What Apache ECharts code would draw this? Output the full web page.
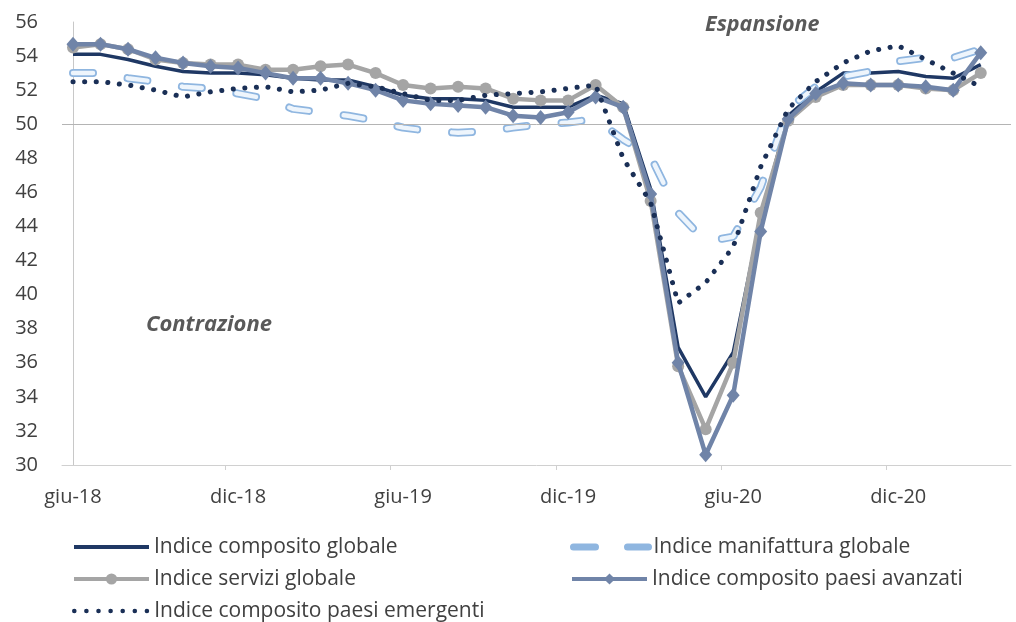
<!DOCTYPE html>
<html>
<head>
<meta charset="utf-8">
<script src="https://cdn.jsdelivr.net/npm/echarts@6/dist/echarts.min.js"></script>
<style>
html,body{margin:0;padding:0;background:#fff;}
#chart{width:1016px;height:622px;}
</style>
</head>
<body>
<div id="chart"></div>
<script>
const months = ['giu-18','lug-18','ago-18','set-18','ott-18','nov-18','dic-18','gen-19','feb-19','mar-19','apr-19','mag-19',
  'giu-19','lug-19','ago-19','set-19','ott-19','nov-19','dic-19','gen-20','feb-20','mar-20','apr-20','mag-20',
  'giu-20','lug-20','ago-20','set-20','ott-20','nov-20','dic-20','gen-21','feb-21','mar-21'];

const compositoGlobale = [54.1,54.1,53.8,53.4,53.1,53.0,53.0,52.9,52.7,52.6,52.6,52.2,51.7,51.5,51.5,51.4,51.0,51.0,51.0,51.7,51.2,46.2,36.9,34.0,36.6,44.5,50.5,51.9,53.0,53.0,53.1,52.8,52.7,53.5];
const manifatturaGlobale = [53.0,53.0,52.7,52.5,52.2,52.1,51.8,51.5,50.9,50.7,50.5,50.2,49.8,49.6,49.5,49.6,49.8,50.0,50.1,50.3,49.1,48.1,44.8,43.1,43.4,46.3,50.9,52.2,52.8,53.1,53.7,53.9,53.9,54.4];
const serviziGlobale = [54.5,54.7,54.4,53.8,53.6,53.5,53.5,53.2,53.2,53.4,53.5,53.0,52.3,52.1,52.2,52.1,51.5,51.4,51.4,52.3,51.0,45.5,35.8,32.1,36.0,44.8,50.2,51.6,52.3,52.3,52.3,52.1,52.0,53.0];
const compositoAvanzati = [54.7,54.7,54.4,53.9,53.6,53.4,53.3,53.0,52.7,52.7,52.4,52.0,51.4,51.2,51.1,51.0,50.5,50.4,50.7,51.6,51.0,45.9,36.0,30.6,34.1,43.7,50.3,51.8,52.4,52.3,52.3,52.2,52.0,54.2];
const compositoEmergenti = [52.5,52.5,52.3,52.0,51.6,51.9,52.1,52.2,51.9,52.0,52.4,52.2,51.8,51.4,51.4,51.7,51.8,51.9,52.1,52.3,48.0,45.4,39.5,40.7,42.8,47.5,50.9,52.5,53.6,54.3,54.6,53.8,53.0,52.2];

const seriesNames = ['Indice composito globale','Indice manifattura globale','Indice servizi globale','Indice composito paesi avanzati','Indice composito paesi emergenti'];
const annotations = ['Espansione','Contrazione'];
const yMin = 30, yMax = 56, yStep = 2, threshold = 50;
const labelEvery = 6;

const toPairs = arr => arr.map((v, i) => [i, v]);
const labelValues = months.map((m, i) => i).filter(i => i % labelEvery === 0);
const tickValues = labelValues.slice(1).map(i => i - 0.45);

const FONT = '"Open Sans", sans-serif';
const txt = '#404040';

const chart = echarts.init(document.getElementById('chart'), null, {renderer: 'canvas'});

const legendBase = (name, left, top, hideSymbol, lineStyle) => {
  const l = {
    data: [name], left: left, top: top, padding: 0,
    itemWidth: 75, itemHeight: 14, selectedMode: false,
    textStyle: {fontFamily: FONT, fontSize: 21, color: txt, lineHeight: 24},
    lineStyle: lineStyle
  };
  if (hideSymbol) l.itemStyle = {opacity: 0, borderWidth: 0};
  return l;
};

chart.setOption({
  animation: false,
  backgroundColor: '#fff',
  grid: {left: 62, right: 5, top: 22, bottom: 157, containLabel: false},
  xAxis: {
    type: 'value', min: -0.4, max: 34.1,
    splitLine: {show: false},
    axisLine: {show: true, lineStyle: {color: '#d0d0d0', width: 1}},
    axisTick: {show: true, length: 5, lineStyle: {color: '#d0d0d0'}, customValues: tickValues},
    axisLabel: {
      customValues: labelValues, margin: 22,
      formatter: v => months[Math.round(v)] || '',
      fontFamily: FONT, fontSize: 20, color: txt
    }
  },
  yAxis: {
    type: 'value', min: yMin, max: yMax, interval: yStep,
    splitLine: {show: false},
    axisLine: {show: true, lineStyle: {color: '#c8c8c8', width: 1}},
    axisTick: {show: false},
    axisLabel: {margin: 24, fontFamily: FONT, fontSize: 20, color: txt}
  },
  legend: [
    legendBase(seriesNames[0], 72, 535, true, {width: 4}),
    legendBase(seriesNames[1], 570, 535, true, {width: 7, type: [22, 32], cap: 'round'}),
    legendBase(seriesNames[2], 72, 567, false, {width: 4}),
    legendBase(seriesNames[3], 570, 567, false, {width: 4}),
    legendBase(seriesNames[4], 72, 599, true, {width: 4.5, type: [0.1, 12], cap: 'round'})
  ],
  graphic: [
    {type: 'text', left: 705, top: 14, style: {text: annotations[0], font: 'italic bold 21.5px ' + FONT, fill: '#595959'}},
    {type: 'text', left: 146, top: 314, style: {text: annotations[1], font: 'italic bold 22px ' + FONT, fill: '#595959'}}
  ],
  series: [
    {
      name: seriesNames[0], type: 'line', data: toPairs(compositoGlobale),
      showSymbol: false, symbol: 'none', z: 2,
      lineStyle: {color: '#1f3864', width: 3.5},
      itemStyle: {color: '#1f3864'},
      markLine: {
        silent: true, symbol: ['none','none'], label: {show: false},
        lineStyle: {color: '#b4b4b4', width: 1, type: 'solid'},
        data: [{yAxis: threshold}]
      }
    },
    {
      name: seriesNames[1], type: 'line', data: toPairs(manifatturaGlobale),
      symbol: 'none', z: 3,
      lineStyle: {color: '#8fb6e0', width: 8, type: [20, 35], cap: 'round'},
      itemStyle: {color: '#8fb6e0'}
    },
    {
      name: 'manifattura-inner', type: 'line', data: toPairs(manifatturaGlobale),
      symbol: 'none', z: 3, silent: true,
      lineStyle: {color: '#eef5fc', width: 4.5, type: [20, 35], cap: 'round'}
    },
    {
      name: seriesNames[2], type: 'line', data: toPairs(serviziGlobale),
      symbol: 'circle', symbolSize: 12, showSymbol: true, z: 4,
      lineStyle: {color: '#a5a5a5', width: 4.5},
      itemStyle: {color: '#a5a5a5'}
    },
    {
      name: seriesNames[3], type: 'line', data: toPairs(compositoAvanzati),
      symbol: 'diamond', symbolSize: [13, 15], showSymbol: true, z: 5,
      lineStyle: {color: '#7084a8', width: 4.5},
      itemStyle: {color: '#7084a8'}
    },
    {
      name: seriesNames[4], type: 'line', data: toPairs(compositoEmergenti),
      symbol: 'none', z: 6,
      lineStyle: {color: '#1a2f56', width: 5, type: [0.1, 11.5], cap: 'round'},
      itemStyle: {color: '#1a2f56'}
    }
  ]
});
</script>
</body>
</html>
